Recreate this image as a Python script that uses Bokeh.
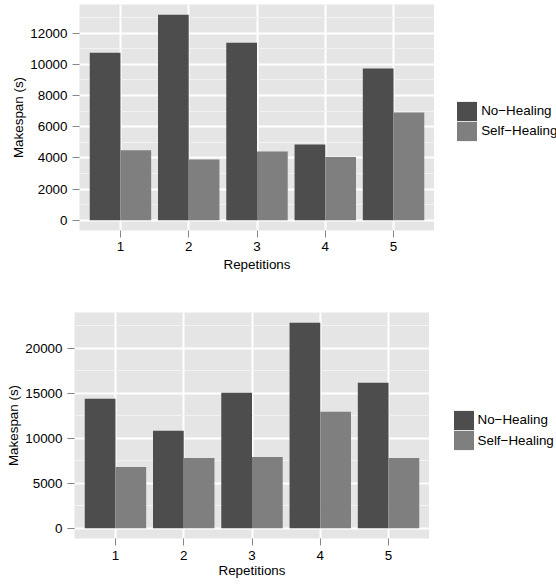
from bokeh.plotting import figure
from bokeh.models import Range1d, FixedTicker, Legend, LegendItem, ColumnDataSource
from bokeh.layouts import column, row
from bokeh.transform import dodge
from bokeh.embed import file_html
from bokeh.resources import INLINE

# ---------------- data ----------------
repetitions = [1, 2, 3, 4, 5]
rep_labels = ["1", "2", "3", "4", "5"]
series = ["No\u2212Healing", "Self\u2212Healing"]

top_no_healing = [10740, 13170, 11380, 4860, 9720]
top_self_healing = [4480, 3900, 4410, 4050, 6910]
top_major = [0, 2000, 4000, 6000, 8000, 10000, 12000]
top_minor = [1000, 3000, 5000, 7000, 9000, 11000, 13000]

bottom_no_healing = [14370, 10810, 15030, 22810, 16150]
bottom_self_healing = [6810, 7810, 7920, 12920, 7810]
bottom_major = [0, 5000, 10000, 15000, 20000]
bottom_minor = [2500, 7500, 12500, 17500, 22500]

colors = ["#4D4D4D", "#7F7F7F"]
FONT = "Liberation Sans"
FS = "13.4px"


def panel(src, y_rng, major, minor, width, height,
          b_left, b_top, b_bottom,
          ytick_out, ylab_stand, ytitle_stand,
          xtick_out, xlab_stand, xtitle_stand):
    p = figure(width=width, height=height, output_backend="svg",
               toolbar_location=None, tools="",
               x_range=Range1d(0.4, 5.6), y_range=Range1d(*y_rng),
               min_border_left=b_left, min_border_right=0,
               min_border_top=b_top, min_border_bottom=b_bottom)
    p.background_fill_color = "#E5E5E5"
    p.border_fill_color = "white"
    p.outline_line_color = None

    p.vbar(x=dodge("rep", -0.225, range=p.x_range), top="no", bottom=0,
           width=0.45, source=src, fill_color=colors[0], line_color=None)
    p.vbar(x=dodge("rep", 0.225, range=p.x_range), top="selfh", bottom=0,
           width=0.45, source=src, fill_color=colors[1], line_color=None)

    p.xaxis.ticker = FixedTicker(ticks=repetitions)
    p.xaxis.major_label_overrides = {r: s for r, s in zip(repetitions, rep_labels)}
    p.yaxis.ticker = FixedTicker(ticks=major, minor_ticks=minor)

    for ax in (p.xaxis[0], p.yaxis[0]):
        ax.axis_line_color = None
        ax.minor_tick_line_color = None
        ax.major_tick_line_color = "#858585"
        ax.major_tick_line_width = 1
        ax.major_tick_in = 0
        ax.major_label_text_font = FONT
        ax.major_label_text_font_size = FS
        ax.major_label_text_color = "black"
        ax.axis_label_text_font = FONT
        ax.axis_label_text_font_size = FS
        ax.axis_label_text_font_style = "normal"
        ax.axis_label_text_color = "black"

    p.yaxis.major_tick_out = ytick_out
    p.yaxis.major_label_standoff = ylab_stand
    p.yaxis.axis_label_standoff = ytitle_stand
    p.xaxis.major_tick_out = xtick_out
    p.xaxis.major_label_standoff = xlab_stand
    p.xaxis.axis_label_standoff = xtitle_stand
    p.xaxis.axis_label = "Repetitions"
    p.yaxis.axis_label = "Makespan (s)"

    p.xgrid.grid_line_color = "white"
    p.xgrid.grid_line_width = 2
    p.ygrid.grid_line_color = "white"
    p.ygrid.grid_line_width = 2
    p.ygrid.minor_grid_line_color = "#F2F2F2"
    p.ygrid.minor_grid_line_width = 1
    return p


def legend_panel(src, width, height, x_off, y_offs):
    # separate narrow plot holding the legend (its bars lie outside its ranges)
    q = figure(width=width, height=height, output_backend="svg",
               toolbar_location=None, tools="",
               x_range=Range1d(-20, -19), y_range=Range1d(-20, -19),
               min_border_left=0, min_border_right=0,
               min_border_top=0, min_border_bottom=0,
               x_axis_location=None, y_axis_location=None)
    q.grid.visible = False
    q.outline_line_color = None
    q.background_fill_color = "white"
    q.border_fill_color = "white"
    k1 = q.vbar(x="rep", top="no", width=0.45, source=src,
                fill_color=colors[0], line_color=None)
    k2 = q.vbar(x="rep", top="selfh", width=0.45, source=src,
                fill_color=colors[1], line_color=None)
    for rend, lab, yo in zip([k1, k2], series, y_offs):
        lg = Legend(items=[LegendItem(label=lab, renderers=[rend])],
                    location=(x_off, yo), padding=0, margin=0, spacing=0,
                    glyph_width=25, glyph_height=24, label_height=24,
                    label_standoff=2, border_line_color=None,
                    background_fill_alpha=0,
                    label_text_font=FONT, label_text_font_size=FS,
                    label_text_color="black")
        q.add_layout(lg, "center")
    return q


src_top = ColumnDataSource(dict(rep=repetitions, no=top_no_healing, selfh=top_self_healing))
src_bottom = ColumnDataSource(dict(rep=repetitions, no=bottom_no_healing, selfh=bottom_self_healing))

p1 = panel(src_top, (-658, 13828), top_major, top_minor,
           width=434, height=290, b_left=79, b_top=4, b_bottom=60,
           ytick_out=7, ylab_stand=5, ytitle_stand=1,
           xtick_out=7, xlab_stand=4, xtitle_stand=3)
l1 = legend_panel(src_top, 122, 290, 20.2, (107.4, 87.4))

p2 = panel(src_bottom, (-1140, 23950), bottom_major, bottom_minor,
           width=429, height=295, b_left=74, b_top=22, b_bottom=47,
           ytick_out=7, ylab_stand=5, ytitle_stand=1,
           xtick_out=7, xlab_stand=5, xtitle_stand=0)
l2 = legend_panel(src_bottom, 127, 295, 21.5, (106.4, 85.9))

layout = column(row(p1, l1, spacing=0), row(p2, l2, spacing=0), spacing=0)
open("out.html", "w").write(file_html(layout, INLINE))
